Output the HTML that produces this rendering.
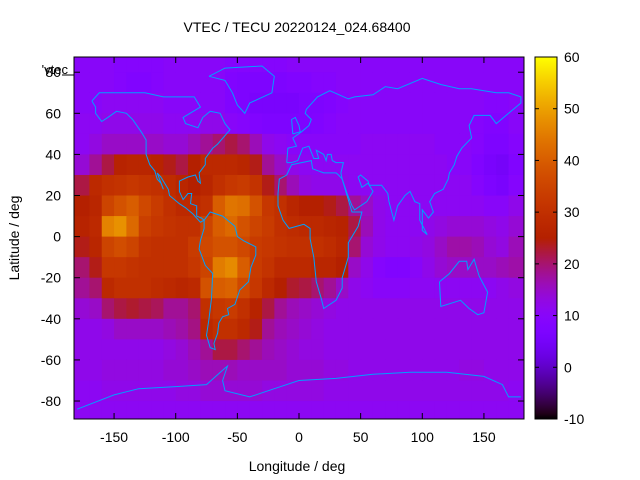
<!DOCTYPE html>
<html><head><meta charset="utf-8"><style>
body{margin:0;background:#fff}
svg{display:block;font-family:"Liberation Sans",sans-serif}
</style></head><body>
<svg id="chart" width="640" height="480" viewBox="0 0 640 480">
<defs><clipPath id="pc"><rect x="74" y="57" width="450" height="362"/></clipPath>
<linearGradient id="cbg" x1="0" y1="1" x2="0" y2="0"></linearGradient></defs>
<rect width="640" height="480" fill="#fff"/>
<text x="297" y="32" text-anchor="middle" font-size="14">VTEC / TECU 20220124_024.68400</text>
<g id="cells" clip-path="url(#pc)"></g>
<g id="coast" clip-path="url(#pc)" fill="none" stroke="#00a0ff" stroke-width="1"></g>
<rect x="74" y="57" width="450" height="362" fill="none" stroke="#000"/>
<g id="axes" font-size="14"></g>
<text x="297" y="471" text-anchor="middle" font-size="14">Longitude / deg</text>
<text transform="translate(19,238) rotate(-90)" text-anchor="middle" font-size="14">Latitude / deg</text>
<text x="68" y="74" text-anchor="end" font-size="13">'vtec</text>
<line x1="62" y1="75" x2="74" y2="75" stroke="#000"/>
<rect x="535" y="57" width="22" height="362" fill="url(#cbg)" stroke="#000"/>
<g id="cbaxis" font-size="14"></g>
</svg>
<script>
const lonCenters = [-175,-165,-155,-145,-135,-125,-115,-105,-95,-85,-75,-65,-55,-45,-35,-25,-15,-5,5,15,25,35,45,55,65,75,85,95,105,115,125,135,145,155,165,175];
const latCenters = [85,75,65,55,45,35,25,15,5,-5,-15,-25,-35,-45,-55,-65,-75,-85];
const r85  = [10,10,10,9,9,9,9,10,10,10,10,10,9,9,9,9,9,10,10,10,10,10,10,10,10,10,10,10,10,10,10,10,10,10,10,10];
const r75  = [10,10,10,9,8,8,9,10,10,10,10,10,8,7,7,7,7,8,8,9,9,10,10,10,10,10,10,10,10,10,10,10,10,10,10,10];
const r65  = [10,10,11,11,11,11,11,10,10,10,10,10,8,7,6,6,6,6,7,7,8,9,10,10,10,10,10,10,10,10,10,10,10,9,9,10];
const r55  = [11,11,12,12,12,12,12,11,11,11,12,12,10,9,8,7,7,7,7,8,9,10,10,10,10,10,10,10,10,10,10,10,9,8,8,10];
const r45  = [11,13,15,15,15,15,15,14,14,16,18,20,22,20,16,12,11,10,10,10,10,10,10,11,11,11,11,11,11,10,10,10,9,7,7,9];
const r35  = [14,18,22,26,27,27,26,24,22,25,28,28,28,27,24,18,15,12,11,11,11,11,11,11,11,11,11,11,11,11,10,10,8,6,5,8];
const r25  = [22,28,30,31,32,31,30,29,27,25,27,30,32,33,31,24,20,16,13,12,12,12,11,11,11,11,11,11,11,11,11,11,9,7,6,9];
const r15  = [25,27,35,38,40,36,33,30,28,28,30,40,44,43,38,32,30,27,25,25,24,22,18,15,12,11,11,11,11,11,11,11,11,10,10,12];
const r5   = [26,28,46,48,42,34,32,31,30,30,35,40,42,38,35,33,30,29,28,28,27,26,22,16,12,11,11,11,12,13,14,14,14,13,12,14];
const rm5  = [24,27,35,37,35,31,30,30,30,33,36,38,38,36,33,32,31,30,30,30,29,27,20,14,12,11,11,12,13,15,17,17,16,14,13,16];
const rm15 = [20,24,32,32,31,30,30,30,30,32,35,45,47,40,33,31,28,28,28,27,27,25,15,12,9,8,8,10,12,14,15,15,15,15,16,17];
const rm25 = [18,20,28,30,30,30,29,28,27,28,38,40,41,36,32,28,25,23,22,20,18,15,12,11,10,10,10,11,11,11,11,11,11,11,12,13];
const rm35 = [14,15,20,22,23,22,21,18,18,20,30,32,33,30,26,22,18,16,15,14,13,12,12,12,12,12,12,12,12,12,12,12,12,12,12,12];
const rm45 = [12,12,13,15,15,15,15,16,17,19,28,30,30,28,24,18,16,15,14,13,12,12,12,12,12,12,12,12,12,12,12,12,12,12,12,12];
const rm55 = [12,12,12,12,12,12,12,13,14,16,18,22,22,20,18,16,15,14,13,13,12,12,12,12,12,12,12,12,12,12,12,12,12,12,12,12];
const rm65 = [12,12,13,13,13,13,13,14,14,15,16,16,16,15,15,15,15,14,14,14,13,13,12,12,12,12,12,12,12,12,12,13,13,12,12,12];
const rm75 = [11,11,12,12,12,12,12,12,13,13,14,14,14,14,14,13,13,13,13,13,12,12,12,12,12,12,12,12,12,12,12,12,12,12,12,11];
const rm85 = [11,11,11,11,11,11,11,11,11,11,11,11,11,11,11,11,11,11,11,11,11,11,11,11,11,11,11,11,11,11,11,11,11,11,11,11];
const vtecRows = [r85,r75,r65,r55,r45,r35,r25,r15,r5,rm5,rm15,rm25,rm35,rm45,rm55,rm65,rm75,rm85];
const xTicks = [-150,-100,-50,0,50,100,150];
const yTicks = [80,60,40,20,0,-20,-40,-60,-80];
const cbTicks = [-10,0,10,20,30,40,50,60];

const NS='http://www.w3.org/2000/svg';
const X = lon => 74 + (lon + 182.5) * (450/365);
const Y = lat => 56.8 + (87.5 - lat) * (362.2/176.25);
const CB = v => 419 - (v + 10) * (362/70);
function pal(v){
  let t=Math.max(0,Math.min(1,(v+10)/70));
  const r=Math.sqrt(t), g=t*t*t, b=Math.max(0,Math.sin(2*Math.PI*t));
  return 'rgb('+Math.round(r*255)+','+Math.round(g*255)+','+Math.round(b*255)+')';
}
function mk(tag,attrs,parent){const e=document.createElementNS(NS,tag);for(const k in attrs)e.setAttribute(k,attrs[k]);parent.appendChild(e);return e;}

const cells=document.getElementById('cells');
vtecRows.forEach((row,ri)=>{
  const lat=latCenters[ri];
  row.forEach((v,ci)=>{
    const lon=lonCenters[ci];
    let x0=X(lon-5), x1=X(lon+5);
    if(ci===0) x0=X(-182.5);
    if(ci===lonCenters.length-1) x1=X(182.5);
    const y0=Y(lat+5), y1=Y(lat-5);
    const r=mk('rect',{x:x0,y:y0,width:x1-x0+0.5,height:y1-y0+0.5,fill:pal(v)},cells);
    
    
  });
});

const coastlines = {
 'north-america':[[-168,66],[-162,70],[-140,70],[-125,70],[-110,68],[-95,68],[-85,68],[-80,63],[-94,58],[-92,55],[-82,53],[-78,58],[-72,61],[-64,60],[-60,55],[-56,52],[-66,45],[-70,43],[-76,38],[-76,35],[-81,31],[-80,26],[-82,27],[-84,30],[-90,29],[-97,27],[-97,22],[-94,18],[-90,21],[-87,21],[-88,16],[-83,15],[-83,10],[-79,9],[-77,8],[-80,7],[-86,11],[-92,14],[-97,16],[-105,20],[-106,23],[-112,29],[-115,31],[-110,23],[-112,26],[-115,28],[-117,32],[-121,35],[-124,40],[-124,47],[-128,51],[-135,57],[-140,60],[-148,61],[-155,58],[-160,56],[-165,60],[-165,63],[-168,66]],
 'south-america':[[-77,8],[-72,12],[-62,10],[-52,5],[-50,0],[-45,-2],[-35,-5],[-35,-9],[-39,-15],[-41,-22],[-48,-26],[-52,-33],[-58,-35],[-57,-38],[-62,-39],[-65,-42],[-66,-47],[-69,-52],[-68,-55],[-72,-54],[-75,-48],[-73,-40],[-71,-30],[-70,-18],[-76,-14],[-81,-6],[-80,-2],[-77,4],[-77,8]],
 'africa':[[-17,21],[-16,28],[-10,30],[-6,35],[10,37],[11,33],[20,31],[30,31],[32,30],[35,28],[38,22],[43,12],[51,12],[48,5],[40,-3],[40,-10],[35,-20],[35,-25],[30,-31],[20,-35],[18,-30],[14,-22],[12,-10],[9,-1],[9,4],[4,6],[-8,4],[-13,8],[-17,15],[-17,21]],
 'eurasia':[[-10,36],[-9,43],[-2,44],[-5,48],[2,51],[8,54],[10,57],[5,60],[6,62],[15,68],[25,71],[40,67],[45,68],[60,69],[70,73],[80,72],[100,77],[115,74],[130,72],[140,72],[160,70],[170,70],[180,68],[180,65],[170,60],[160,55],[155,59],[142,59],[138,54],[140,48],[132,43],[128,39],[126,35],[122,31],[121,28],[117,23],[110,21],[106,17],[109,12],[105,9],[100,13],[100,3],[104,1],[98,8],[98,16],[94,17],[90,22],[86,20],[80,15],[77,8],[73,17],[72,21],[67,25],[57,25],[56,27],[50,30],[48,29],[51,24],[56,26],[60,22],[55,17],[45,13],[43,15],[39,21],[35,28],[34,31],[36,36],[30,36],[27,37],[26,40],[23,40],[22,37],[20,40],[14,42],[16,38],[12,38],[8,44],[3,43],[-1,37],[-6,36],[-10,36]],
 'greenland':[[-73,78],[-60,82],[-30,83],[-20,78],[-22,70],[-40,65],[-44,60],[-50,64],[-54,70],[-60,76],[-73,78]],
 'britain':[[-5,50],[1,51],[0,54],[-3,58],[-6,57],[-5,50]],
 'australia':[[114,-22],[122,-18],[130,-12],[136,-12],[137,-16],[142,-11],[146,-19],[153,-27],[150,-37],[145,-38],[138,-35],[131,-31],[115,-34],[114,-22]],
 'antarctica':[[-180,-84],[-150,-77],[-130,-74],[-100,-73],[-75,-72],[-60,-64],[-58,-63],[-62,-70],[-60,-75],[-40,-78],[-20,-74],[0,-70],[30,-69],[60,-67],[90,-66],[120,-66],[150,-68],[165,-72],[170,-78],[180,-78]]
};
const coast=document.getElementById('coast');
for(const k in coastlines){
  const p=mk('polyline',{points:coastlines[k].map(q=>X(q[0]).toFixed(1)+','+Y(q[1]).toFixed(1)).join(' ')},coast);
  
  
}

const axes=document.getElementById('axes');
xTicks.forEach(t=>{
  const x=X(t);
  mk('line',{x1:x,y1:419,x2:x,y2:413,stroke:'#000'},axes);
  mk('line',{x1:x,y1:57,x2:x,y2:63,stroke:'#000'},axes);
  const tx=mk('text',{x:x,y:442,'text-anchor':'middle'},axes);
  tx.textContent=t;
  
  
});
yTicks.forEach(t=>{
  const y=Y(t);
  mk('line',{x1:74,y1:y,x2:80,y2:y,stroke:'#000'},axes);
  mk('line',{x1:524,y1:y,x2:518,y2:y,stroke:'#000'},axes);
  const tx=mk('text',{x:61,y:y+5,'text-anchor':'end'},axes);
  tx.textContent=t;
  
  
});

const grad=document.getElementById('cbg');
for(let i=0;i<=70;i++){
  mk('stop',{offset:(i/70),'stop-color':pal(i-10)},grad);
}
const cb=document.getElementById('cbaxis');
cbTicks.forEach(t=>{
  const y=CB(t);
  mk('line',{x1:535,y1:y,x2:539,y2:y,stroke:'#000'},cb);
  mk('line',{x1:557,y1:y,x2:553,y2:y,stroke:'#000'},cb);
  const tx=mk('text',{x:564,y:y+5},cb);
  tx.textContent=t;
  
  
});
</script>
</body></html>
